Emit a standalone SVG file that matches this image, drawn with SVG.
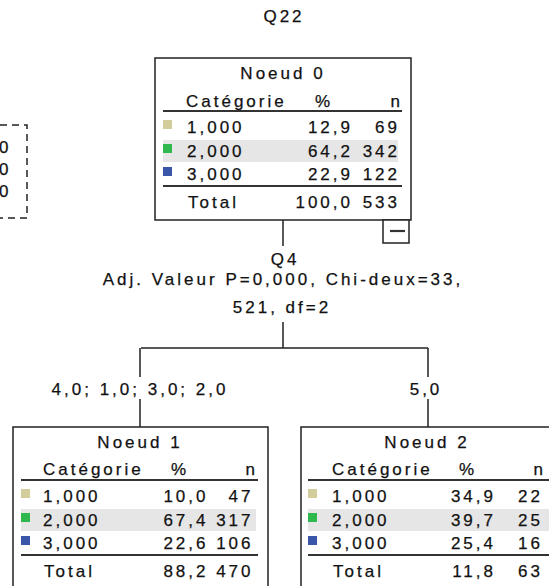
<svg xmlns="http://www.w3.org/2000/svg" width="549" height="586" viewBox="0 0 549 586">
<style>
text{font-family:"Liberation Sans",Arial,sans-serif;font-size:17px;letter-spacing:3px;fill:#111;stroke:#111;stroke-width:0.25}
.m{text-anchor:middle}
.e{text-anchor:end}
.box{fill:#fff;stroke:#222;stroke-width:1.5}
.rule{stroke:#333;stroke-width:1.8}
.band{fill:#e6e6e6}
.c1{fill:#d2cd9a}
.c2{fill:#2fb84e}
.c3{fill:#3a56a8}
.conn{stroke:#222;stroke-width:1.5;fill:none}
.dash{stroke:#222;stroke-width:1.5;fill:none;stroke-dasharray:7,5}
</style>
<rect width="549" height="586" fill="#fff"/>
<text class="m" x="284" y="22">Q22</text>

<g id="partial-left">
<path class="dash" d="M0,125 H27 V218 H0"/>
<text x="-1" y="153">0</text>
<text x="-1" y="175">0</text>
<text x="-1" y="197">0</text>
</g>

<g id="connectors">
<path class="conn" d="M283,220 V246"/>
<path class="conn" d="M283,322 V348 M141,348 H428 M140,348 V377 M140,399 V427 M428,348 V377 M428,399 V427"/>
</g>

<g id="edge-labels">
<text class="m" x="285" y="265">Q4</text>
<text class="m" x="283" y="285">Adj. Valeur P=0,000, Chi-deux=33,</text>
<text class="m" x="282" y="313">521, df=2</text>
<text class="m" x="140" y="395">4,0; 1,0; 3,0; 2,0</text>
<text class="m" x="426" y="395">5,0</text>
</g>

<g id="node0" transform="translate(155,58)">
<rect class="box" x="0" y="0" width="256" height="162"/>
<rect class="band" x="8" y="82" width="235" height="22"/>
<text class="m" x="128" y="21">Noeud 0</text>
<text x="31" y="49">Catégorie</text>
<text x="160" y="49">%</text>
<text class="e" x="248" y="49">n</text>
<line class="rule" x1="8" y1="53" x2="247" y2="53"/>
<rect class="c1" x="8" y="62" width="9" height="9"/>
<text x="32" y="75">1,000</text>
<text class="e" x="198" y="75">12,9</text>
<text class="e" x="245" y="75">69</text>
<rect class="c2" x="8" y="86" width="9" height="9"/>
<text x="32" y="99">2,000</text>
<text class="e" x="198" y="99">64,2</text>
<text class="e" x="245" y="99">342</text>
<rect class="c3" x="8" y="109" width="9" height="9"/>
<text x="32" y="122">3,000</text>
<text class="e" x="198" y="122">22,9</text>
<text class="e" x="245" y="122">122</text>
<line class="rule" x1="8" y1="128" x2="247" y2="128"/>
<text x="33" y="150">Total</text>
<text class="e" x="198" y="150">100,0</text>
<text class="e" x="245" y="150">533</text>
<rect class="box" x="228" y="162" width="26" height="23"/>
<line x1="235" y1="173" x2="250" y2="173" stroke="#333" stroke-width="2.2"/>
</g>

<g id="node1" transform="translate(13,427)">
<rect class="box" x="0" y="0" width="255" height="175"/>
<rect class="band" x="8" y="82" width="235" height="22"/>
<text class="m" x="127" y="21">Noeud 1</text>
<text x="30" y="48">Catégorie</text>
<text x="158" y="48">%</text>
<text class="e" x="245" y="48">n</text>
<line class="rule" x1="8" y1="53" x2="245" y2="53"/>
<rect class="c1" x="8" y="62" width="9" height="9"/>
<text x="30" y="75">1,000</text>
<text class="e" x="195.5" y="75">10,0</text>
<text class="e" x="240.5" y="75">47</text>
<rect class="c2" x="8" y="86" width="9" height="9"/>
<text x="30" y="99">2,000</text>
<text class="e" x="195.5" y="99">67,4</text>
<text class="e" x="240.5" y="99">317</text>
<rect class="c3" x="8" y="109" width="9" height="9"/>
<text x="30" y="122">3,000</text>
<text class="e" x="195.5" y="122">22,6</text>
<text class="e" x="240.5" y="122">106</text>
<line class="rule" x1="8" y1="128" x2="245" y2="128"/>
<text x="31" y="150">Total</text>
<text class="e" x="195.5" y="150">88,2</text>
<text class="e" x="240.5" y="150">470</text>
</g>

<g id="node2" transform="translate(301,427)">
<rect class="box" x="0" y="0" width="256" height="175"/>
<rect class="band" x="7" y="82" width="245" height="22"/>
<text class="m" x="126" y="21">Noeud 2</text>
<text x="31" y="48">Catégorie</text>
<text x="158" y="48">%</text>
<text class="e" x="245" y="48">n</text>
<line class="rule" x1="7" y1="53" x2="250" y2="53"/>
<rect class="c1" x="7" y="62" width="9" height="9"/>
<text x="31" y="75">1,000</text>
<text class="e" x="195" y="75">34,9</text>
<text class="e" x="242" y="75">22</text>
<rect class="c2" x="7" y="86" width="9" height="9"/>
<text x="31" y="99">2,000</text>
<text class="e" x="195" y="99">39,7</text>
<text class="e" x="242" y="99">25</text>
<rect class="c3" x="7" y="109" width="9" height="9"/>
<text x="31" y="122">3,000</text>
<text class="e" x="195" y="122">25,4</text>
<text class="e" x="242" y="122">16</text>
<line class="rule" x1="7" y1="128" x2="250" y2="128"/>
<text x="32" y="150">Total</text>
<text class="e" x="195" y="150">11,8</text>
<text class="e" x="242" y="150">63</text>
</g>
</svg>
